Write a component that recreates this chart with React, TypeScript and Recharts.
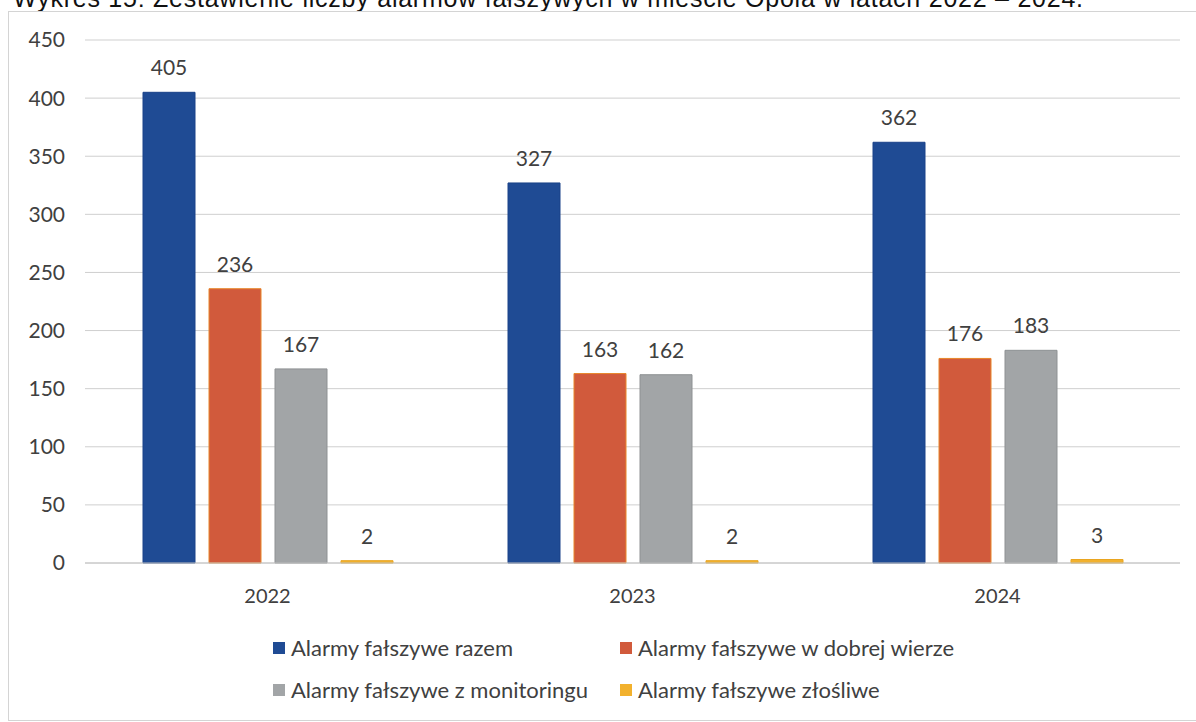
import React from 'react';
import { BarChart, Bar, XAxis, YAxis, CartesianGrid, LabelList } from 'recharts';

const years = ['2022', '2023', '2024'];
const razem = [405, 327, 362];
const dobraWiara = [236, 163, 176];
const monitoring = [167, 162, 183];
const zlosliwe = [2, 2, 3];
const yTicks = [0, 50, 100, 150, 200, 250, 300, 350, 400, 450];

const series = [
  { key: 'razem', name: 'Alarmy fałszywe razem', fill: '#1f4b94', stroke: '#1a4289' },
  { key: 'dobraWiara', name: 'Alarmy fałszywe w dobrej wierze', fill: '#d15a3c', stroke: '#e8862a' },
  { key: 'monitoring', name: 'Alarmy fałszywe z monitoringu', fill: '#a2a5a7', stroke: '#8e9193' },
  { key: 'zlosliwe', name: 'Alarmy fałszywe złośliwe', fill: '#f2b12d', stroke: '#e9a520' },
];

const data = years.map((year, i) => ({
  year,
  razem: razem[i],
  dobraWiara: dobraWiara[i],
  monitoring: monitoring[i],
  zlosliwe: zlosliwe[i],
}));

const FONT = 'Lato, "Noto Sans", sans-serif';
const TEXT = '#404040';

const App: React.FC = () => {
  return (
    <div style={{ position: 'absolute', left: 0, top: 0, width: 1196, height: 722, overflow: 'hidden', background: '#fff' }}>
      {/* title sits mostly above the page edge, as in the scan */}
      <svg width={1196} height={20} style={{ position: 'absolute', left: 0, top: 0 }}>
        <text
          x={13}
          y={7}
          textLength={1070}
          lengthAdjust="spacing"
          fontFamily='"Liberation Sans", Arial, sans-serif'
          fontSize={25}
          fill="#111"
        >
          Wykres 15: Zestawienie liczby alarmów fałszywych w mieście Opola w latach 2022 – 2024.
        </text>
      </svg>
      <div style={{ position: 'absolute', left: 8, top: 11, width: 1200, height: 710, border: '1px solid #d4d4d4', boxSizing: 'border-box' }} />
      <div style={{ position: 'absolute', left: 0, top: 0 }}>
        <BarChart
          width={1196}
          height={620}
          data={data}
          margin={{ top: 40, right: 16, bottom: 27, left: 0 }}
          barSize={52}
          barGap={14}
        >
          <CartesianGrid vertical={false} stroke="#cfcfcf" />
          <XAxis
            dataKey="year"
            height={30}
            tickLine={false}
            axisLine={{ stroke: '#c4c4c4' }}
            tickMargin={20}
            tick={{ fill: TEXT, fontSize: 20, fontFamily: FONT }}
          />
          <YAxis
            width={85}
            domain={[0, 450]}
            ticks={yTicks}
            axisLine={false}
            tickLine={false}
            tickMargin={14}
            tick={{ fill: TEXT, fontSize: 21, fontFamily: FONT }}
          />
          {series.map((s) => (
            <Bar key={s.key} dataKey={s.key} name={s.name} fill={s.fill} stroke={s.stroke} strokeWidth={1} isAnimationActive={false}>
              <LabelList dataKey={s.key} position="top" offset={17} fill={TEXT} fontSize={21} fontFamily={FONT} />
            </Bar>
          ))}
        </BarChart>
      </div>
      <div
        style={{
          position: 'absolute',
          left: 273,
          top: 634,
          display: 'grid',
          gridTemplateColumns: '347px 340px',
          rowGap: 14,
          fontFamily: FONT,
          fontSize: 22,
          color: TEXT,
          lineHeight: '28px',
        }}
      >
        {series.map((s) => (
          <div key={s.key} style={{ display: 'flex', alignItems: 'center', whiteSpace: 'nowrap' }}>
            <span style={{ display: 'inline-block', width: 12, height: 12, background: s.fill, marginRight: 6 }} />
            {s.name}
          </div>
        ))}
      </div>
    </div>
  );
};

export default App;
